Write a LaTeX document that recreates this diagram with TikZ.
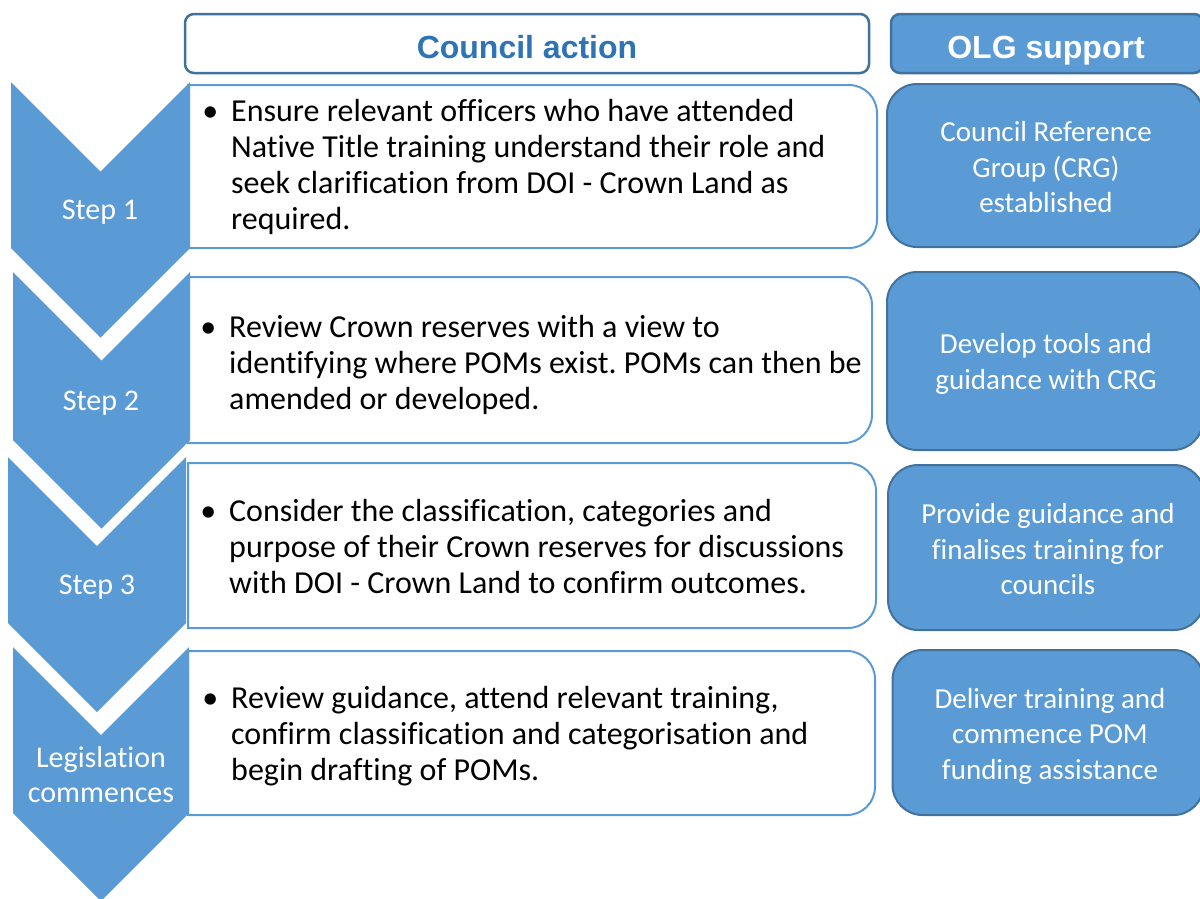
\documentclass[tikz,border=0pt]{standalone}
\usepackage{fontspec}
\setmainfont{Carlito}[Ligatures=NoCommon]
\newfontfamily\headfont{Liberation Sans}
\frenchspacing
\definecolor{chev}{HTML}{5B9BD5}
\definecolor{chevdark}{HTML}{41719C}
\definecolor{headtext}{HTML}{2E74B5}

% down-pointing chevron: left x, right x, top y, bottom of the straight sides
\newcommand\chevronshape[4]{%
  \fill[chev] (#1,#3) -- ({(#1+#2)/2},{#3+(#2-#1)/2}) -- (#2,#3) -- (#2,#4)
    -- ({(#1+#2)/2},{#4+(#2-#1)/2}) -- (#1,#4) -- cycle;}
% action panel: square on the left, rounded on the right
\newcommand\actionpanel[4]{%
  \draw[actionline] (#1,#2) -- ({#3-28},#2) arc[start angle=-90,end angle=0,radius=28]
    -- (#3,{#4-28}) arc[start angle=0,end angle=90,radius=28] -- (#1,#4) -- cycle;}

\tikzset{
  actionline/.style={draw=chev, line width=2pt, fill=white},
  actiontext/.style={anchor=west, align=left, inner sep=0pt, text=black,
    font=\fontsize{32}{36}\selectfont},
  steplabel/.style={align=center, inner sep=0pt, text=white,
    font=\fontsize{30}{35}\selectfont},
  olgbox/.style={draw=chevdark, line width=2pt, fill=chev, rounded corners=30pt,
    inner sep=0pt},
  olgtext/.style={text=white, align=center, inner sep=0pt,
    font=\fontsize{29}{35.5}\selectfont},
  headbox/.style={draw=chevdark, line width=2.5pt, rounded corners=9pt, inner sep=0pt,
    minimum height=59pt},
  headtextstyle/.style={inner sep=0pt, font=\headfont\bfseries\fontsize{32}{36}\selectfont},
}
\newcommand\bul{\makebox[0pt][r]{•\hspace{13pt}}}

\begin{document}
\begin{tikzpicture}[x=1pt,y=-1pt]
\useasboundingbox (0,0) rectangle (1200,898);
\clip (0,0) rectangle (1200,898);

% column headings
\node[headbox, fill=white, minimum width=684pt] (hcouncil) at (527,43.5) {};
\node[headtextstyle, text=headtext] (hcounciltext) at (527,47) {Council action};
\node[headbox, fill=chev, minimum width=312pt] (holg) at (1047,43.5) {};
\node[headtextstyle, text=white, anchor=base] (holgtext) at (1046,58.5) {OLG support};

% council action panels
\actionpanel{188}{85}{877}{248}
\actionpanel{188}{277}{872}{443}
\actionpanel{188}{463}{876}{628}
\actionpanel{188}{651}{875}{815}

% step chevrons
\chevronshape{11}{190}{82}{248}
\chevronshape{13}{190}{272}{440}
\chevronshape{8}{186}{457}{623}
\chevronshape{13}{189}{647}{813}

\node[steplabel] (s1) at (100,212) {Step 1};
\node[steplabel] (s2) at (101,403) {Step 2};
\node[steplabel] (s3) at (97,587) {Step 3};
\node[steplabel] (s4) at (101,775) {Legislation\\commences};

% council actions
\node[actiontext] (a1) at (231,167) {\bul Ensure relevant officers who have attended\\
  Native Title training understand their role and\\
  seek clarification from DOI - Crown Land as\\required.};
\node[actiontext] (a2) at (229,365) {\bul Review Crown reserves with a view to\\
  identifying where POMs exist. POMs can then be\\amended or developed.};
\node[actiontext] (a3) at (229,547) {\bul Consider the classification, categories and\\
  purpose of their Crown reserves for discussions\\
  with DOI - Crown Land to confirm outcomes.};
\node[actiontext] (a4) at (231,736) {\bul Review guidance, attend relevant training,\\
  confirm classification and categorisation and\\begin drafting of POMs.};

% OLG support
\node[olgbox, minimum width=316pt, minimum height=163pt] (o1) at (1045,165.5) {};
\node[olgtext] (o1t) at (1046,167.5) {Council Reference\\Group (CRG)\\established};
\node[olgbox, minimum width=316pt, minimum height=178pt] (o2) at (1045,361) {};
\node[olgtext] (o2t) at (1046,364) {Develop tools and\\guidance with CRG};
\node[olgbox, minimum width=316pt, minimum height=165pt] (o3) at (1046,547.5) {};
\node[olgtext] (o3t) at (1048,549.5) {Provide guidance and\\finalises training for\\councils};
\node[olgbox, minimum width=311pt, minimum height=165pt] (o4) at (1048,732.5) {};
\node[olgtext] (o4t) at (1050,736) {Deliver training and\\commence POM\\funding assistance};
\end{tikzpicture}
\end{document}
